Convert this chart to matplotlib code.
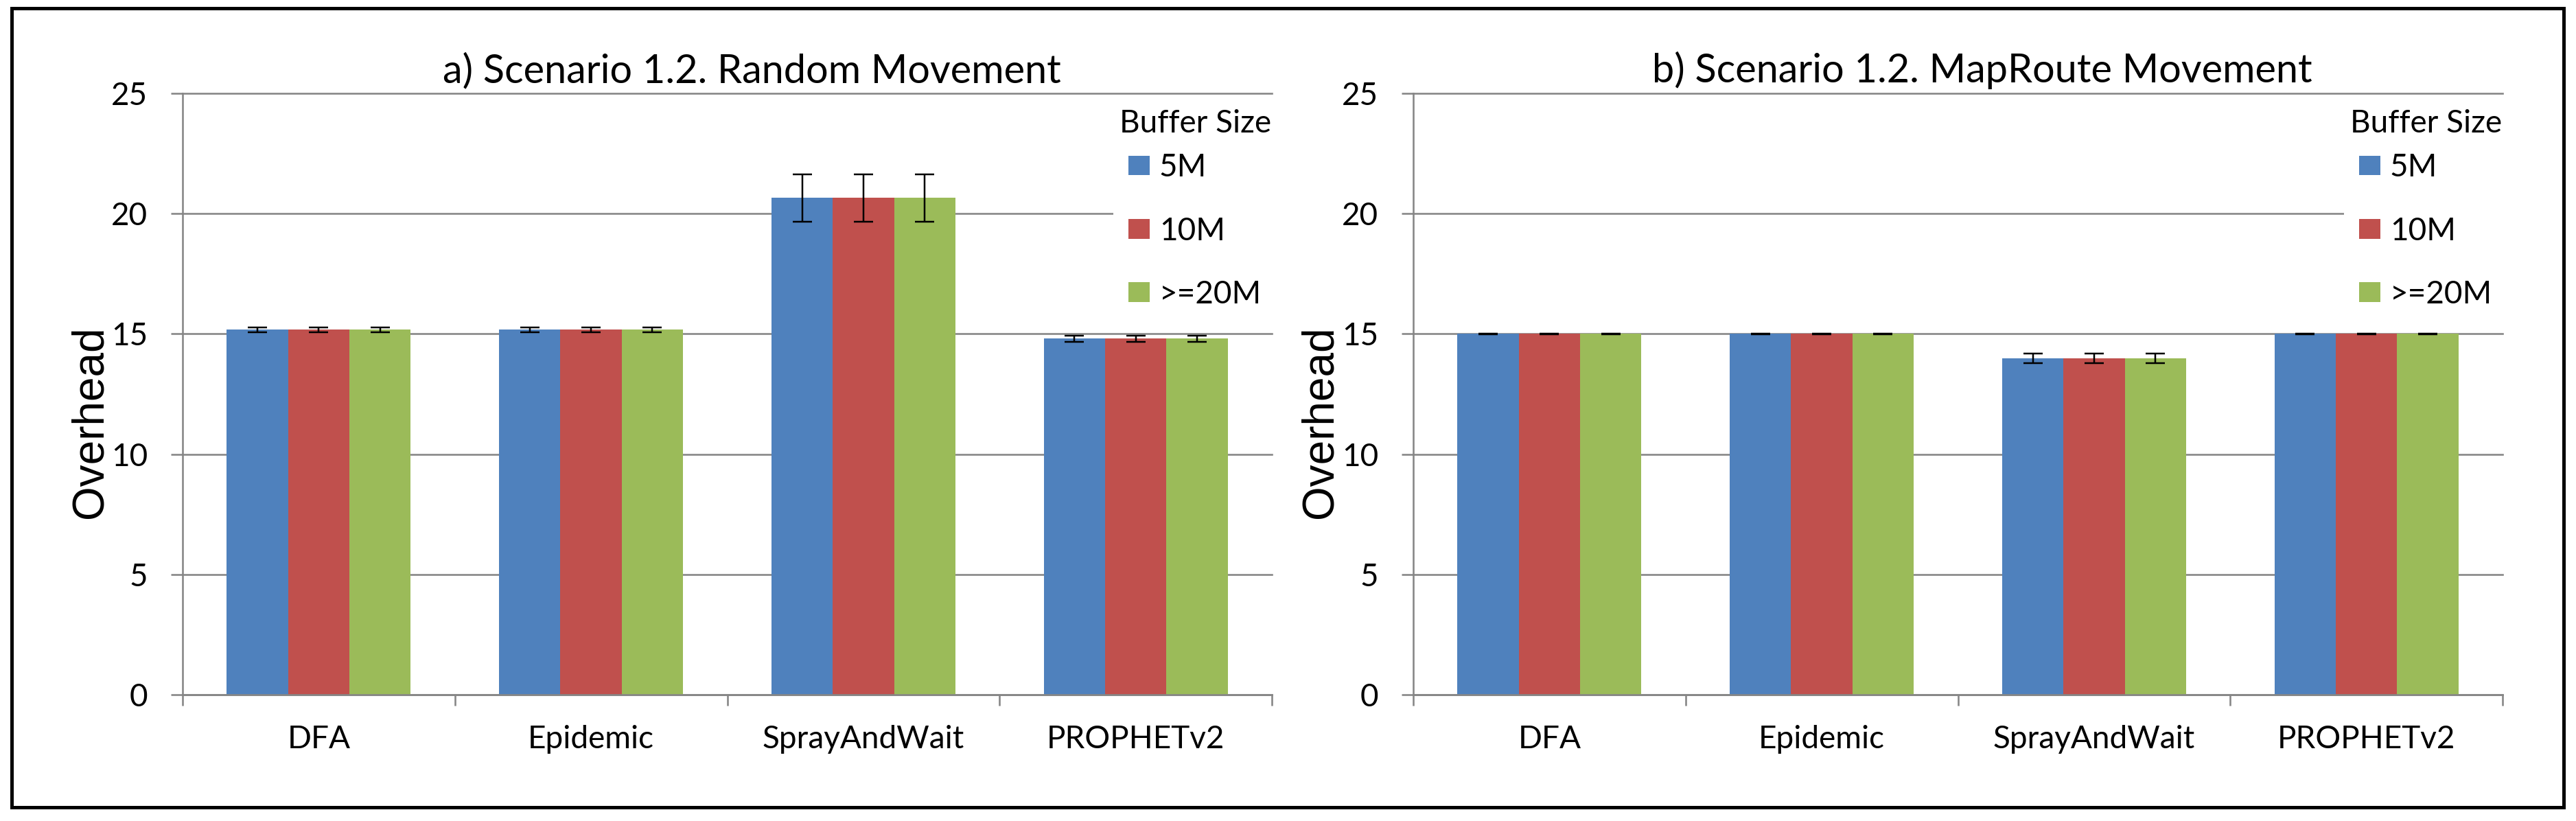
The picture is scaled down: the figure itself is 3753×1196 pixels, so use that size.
import matplotlib
matplotlib.use("Agg")
import matplotlib.pyplot as plt
from matplotlib.patches import Rectangle
import numpy as np

# data
protocols = ["DFA", "Epidemic", "SprayAndWait", "PROPHETv2"]
buffer_sizes = ["5M", "10M", ">=20M"]

random_overhead = [15.17, 15.17, 20.65, 14.80]
random_err = [0.10, 0.10, 0.98, 0.12]
maproute_overhead = [15.00, 15.00, 13.98, 15.00]
maproute_err = [0.02, 0.02, 0.20, 0.02]

titles = ["a) Scenario 1.2. Random Movement", "b) Scenario 1.2. MapRoute Movement"]
colors = ["#4F81BD", "#C0504D", "#9BBB59"]
grid_color = "#868686"

W, H = 3753, 1196
DPI = 100
PX = 72.0 / DPI  # points per pixel

plt.rcParams["font.family"] = ["Lato", "DejaVu Sans"]

fig = plt.figure(figsize=(W / DPI, H / DPI), dpi=DPI)

# outer frame around the whole picture
fig.patches.append(Rectangle((17 / W, 1 - 1176 / H), (3735 - 17) / W, (1176 - 12) / H,
                             transform=fig.transFigure, fill=False,
                             edgecolor="black", linewidth=5 * PX))

panels = [(random_overhead, random_err), (maproute_overhead, maproute_err)]
ax_left_px = [266, 2059]
ax_w_px = 1587
ax_top_px, ax_bot_px = 136, 1012

x = np.arange(len(protocols))
bar_w = 0.225

for i, (vals, errs) in enumerate(panels):
    left = ax_left_px[i]
    ax = fig.add_axes([left / W, 1 - ax_bot_px / H, ax_w_px / W, (ax_bot_px - ax_top_px) / H])

    for j, size in enumerate(buffer_sizes):
        pos = x + (j - 1) * bar_w
        ax.bar(pos, vals, width=bar_w, color=colors[j], label=size, zorder=2)
        ax.errorbar(pos, vals, yerr=errs, fmt="none", ecolor="black",
                    elinewidth=2.5 * PX, capsize=10, capthick=2.5 * PX, zorder=3)

    ax.set_xlim(-0.5, len(protocols) - 0.5)
    ax.set_ylim(0, 25)
    ax.set_yticks([0, 5, 10, 15, 20, 25])
    ax.yaxis.grid(True, color=grid_color, linewidth=2.6 * PX, zorder=0)
    for gl in ax.get_ygridlines():
        gl.set_clip_on(False)
    ax.set_axisbelow(True)

    for side in ["top", "right"]:
        ax.spines[side].set_visible(False)
    for side in ["left", "bottom"]:
        ax.spines[side].set_color(grid_color)
        ax.spines[side].set_linewidth(2.6 * PX)

    ax.tick_params(axis="y", direction="out", length=17 * PX, width=2.6 * PX,
                   color=grid_color, pad=34 * PX, labelsize=33)
    ax.set_xticks(x)
    ax.set_xticklabels(protocols)
    ax.set_xticks(np.arange(len(protocols) + 1) - 0.5, minor=True)
    ax.tick_params(axis="x", which="major", length=0, pad=44 * PX, labelsize=33)
    ax.tick_params(axis="x", which="minor", direction="out", length=16 * PX,
                   width=2.6 * PX, color=grid_color)

    ax.text((1095 - 266) / ax_w_px, (ax_bot_px - 120) / (ax_bot_px - ax_top_px), titles[i],
            transform=ax.transAxes, ha="center", va="baseline", fontsize=41.5)

    fig.text((131 + left - 266) / W, 1 - 615 / H, "Overhead", rotation=90,
             ha="center", va="center", fontsize=46, family=["Liberation Sans", "DejaVu Sans"])

    leg = ax.legend(title="Buffer Size", loc="upper right",
                    bbox_to_anchor=((left + ax_w_px + 8) / W, 1 - 150 / H),
                    bbox_transform=fig.transFigure, fontsize=33, title_fontsize=33,
                    frameon=True, facecolor="white", edgecolor="none", framealpha=1,
                    fancybox=False, handlelength=0.67, handleheight=0.59,
                    handletextpad=0.3, labelspacing=1.1, borderpad=0.2,
                    borderaxespad=0)
    leg._legend_box.sep = 22 * PX

fig.savefig("out.png", dpi=DPI)
